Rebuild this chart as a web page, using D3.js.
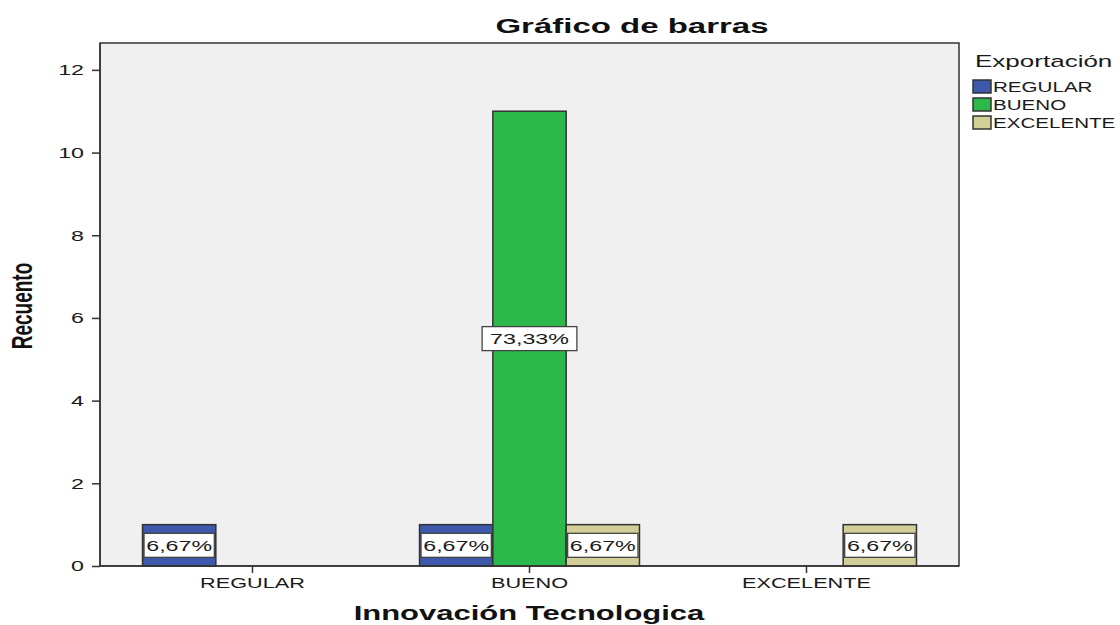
<!DOCTYPE html>
<html><head><meta charset="utf-8">
<script src="https://cdn.jsdelivr.net/npm/d3@7"></script>
<style>body{margin:0;background:#fff;} text{font-family:"Liberation Sans",Arial,sans-serif;}</style>
</head><body>
<svg id="c" width="1120" height="625"></svg>
<script>
const categories = ["REGULAR","BUENO","EXCELENTE"];
const seriesNames = ["REGULAR","BUENO","EXCELENTE"];
const counts = [
  [1, 0, 0],   // Innovación REGULAR
  [1, 11, 1],  // Innovación BUENO
  [0, 0, 1]    // Innovación EXCELENTE
];
const percentLabels = [
  ["6,67%", null, null],
  ["6,67%", "73,33%", "6,67%"],
  [null, null, "6,67%"]
];
const yTicks = [0,2,4,6,8,10,12];
const colors = ["#3e58ac","#2db84b","#d3ce97"];

const SX = 1.55; // horizontal stretch of text as in the reference
const svg = d3.select("#c");
const L = 100, R = 959, T = 43, B = 566;

svg.append("rect").attr("x",L).attr("y",T).attr("width",R-L).attr("height",B-T)
  .attr("fill","#f0f0f0").attr("stroke","#333").attr("stroke-width",1.5);

const x = d3.scaleBand().domain(categories).range([L,R]).paddingInner(0.206).paddingOuter(0.1535);
const xs = d3.scaleBand().domain(seriesNames).range([0,x.bandwidth()]);
const y = d3.scaleLinear().domain([0,12.65]).range([B,T]);

function stext(parent, tx, ty, str, size, opts={}){
  const t = parent.append("text")
    .attr("transform",`translate(${tx},${ty}) scale(${opts.sx||SX},1)`)
    .attr("font-size",size).attr("fill",opts.fill||"#1a1a1a")
    .attr("text-anchor",opts.anchor||"start")
    .attr("font-weight",opts.bold?"bold":"normal")
    .text(str);
  return t;
}

// bars
const groups = svg.selectAll("g.grp").data(categories).join("g")
  .attr("transform",d=>`translate(${x(d)},0)`);
groups.each(function(cat,ci){
  const g = d3.select(this);
  seriesNames.forEach((s,si)=>{
    const v = counts[ci][si];
    if(!v) return;
    const x0 = xs(s), w = xs.bandwidth();
    g.append("rect").attr("x",x0).attr("y",y(v)).attr("width",w).attr("height",y(0)-y(v))
      .attr("fill",colors[si]).attr("stroke","#333").attr("stroke-width",1.5);
    const lab = percentLabels[ci][si];
    if(lab){
      const cy = (y(v)+y(0))/2;
      const box = g.append("rect");
      const t = stext(g, x0+w/2, cy+5.5, lab, 15, {anchor:"middle"});
      const tw = t.node().getBBox().width*SX;
      const bw = (tw+16 > w+15) ? tw+16 : w-3;
      box.attr("x",x0+w/2-bw/2).attr("y",cy-12).attr("width",bw).attr("height",24)
        .attr("fill","#fff").attr("stroke","#444").attr("stroke-width",1.3);
    }
  });
});

// y axis
const ya = svg.append("g").attr("transform",`translate(${L},0)`)
  .call(d3.axisLeft(y).tickValues(yTicks).tickSize(8).tickPadding(6));
ya.select(".domain").remove();
ya.selectAll("line").attr("stroke","#333").attr("stroke-width",1.5);
ya.selectAll("text").attr("font-size",15).attr("fill","#1a1a1a")
  .attr("font-family","'Liberation Sans',Arial,sans-serif")
  .attr("x",-16/SX).attr("transform",`scale(${SX},1)`);
svg.append("line").attr("x1",L).attr("x2",L).attr("y1",T).attr("y2",B).attr("stroke","#333").attr("stroke-width",1.5);

// x axis
const xa = svg.append("g").attr("transform",`translate(0,${B})`)
  .call(d3.axisBottom(x).tickSize(7).tickPadding(5));
xa.select(".domain").remove();
xa.selectAll("line").attr("stroke","#333").attr("stroke-width",1.5);
xa.selectAll("text").attr("font-size",14).attr("fill","#1a1a1a")
  .attr("font-family","'Liberation Sans',Arial,sans-serif")
  .attr("transform",`scale(${SX},1)`);
svg.append("line").attr("x1",L).attr("x2",R).attr("y1",B).attr("y2",B).attr("stroke","#333").attr("stroke-width",1.5);

// titles
stext(svg, 632, 33, "Gráfico de barras", 20, {anchor:"middle", bold:true, sx:1.65, fill:"#111"});
stext(svg, 529, 620, "Innovación Tecnologica", 20, {anchor:"middle", bold:true, fill:"#111"});
svg.append("text").attr("transform",`translate(32,306) rotate(-90) scale(1,${SX})`).attr("text-anchor","middle")
  .attr("font-size",19).attr("font-weight","bold").attr("fill","#111").text("Recuento");

// legend
stext(svg, 975, 67, "Exportación", 17, {sx:1.53});
seriesNames.forEach((s,i)=>{
  const yy = 80 + i*18;
  svg.append("rect").attr("x",973).attr("y",yy).attr("width",18).attr("height",13)
    .attr("fill",colors[i]).attr("stroke","#333").attr("stroke-width",1.5);
  stext(svg, 993, yy+12, s, 14, {sx:1.47});
});
</script>
</body></html>
